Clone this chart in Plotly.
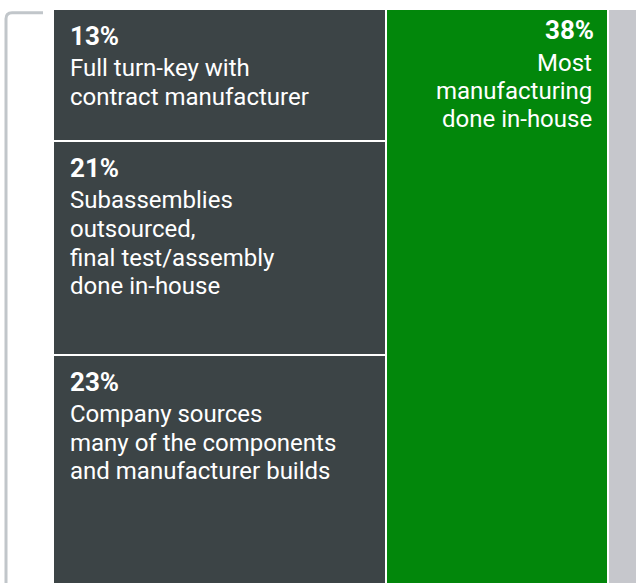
import plotly.graph_objects as go

# ---- data ----
labels = ["13%", "21%", "23%", "38%", "5%"]
descriptions = [
    "Full turn-key with<br>contract manufacturer",
    "Subassemblies<br>outsourced,<br>final test/assembly<br>done in-house",
    "Company sources<br>many of the components<br>and manufacturer builds",
    "Most<br>manufacturing<br>done in-house",
    "",
]
values = [13, 21, 23, 38, 5]
columns = ["outsourced", "outsourced", "outsourced", "in-house", "other"]
colors = ["#3c4446", "#3c4446", "#3c4446", "#02870b", "#c6c7cc"]
show_label = [True, True, True, True, False]
label_side = ["left", "left", "left", "right", "left"]

# ---- marimekko layout from data ----
col_order = []
for c in columns:
    if c not in col_order:
        col_order.append(c)
col_total = {c: sum(v for v, cc in zip(values, columns) if cc == c) for c in col_order}
col_left = {}
acc = 0
for c in col_order:
    col_left[c] = acc
    acc += col_total[c]

xs, ws, bases, hs = [], [], [], []
top_used = {c: 100.0 for c in col_order}
for v, c in zip(values, columns):
    h = v / col_total[c] * 100
    top = top_used[c]
    base = top - h
    top_used[c] = base
    xs.append(col_left[c] + col_total[c] / 2)
    ws.append(col_total[c])
    bases.append(base)
    hs.append(h)

fig = go.Figure(go.Bar(
    x=xs, y=hs, base=bases, width=ws,
    marker=dict(color=colors, line=dict(color="white", width=2)),
    hoverinfo="skip",
))

FONT = "Roboto"
FS = 24    # description font size
LFS = 26   # percentage label font size


def add_line(x, y, text, xanchor, xshift, baseline_px, size, bold=False):
    asc = 0.927 * size + 1  # top of annotation box to baseline
    fig.add_annotation(x=x, y=y, xref="x", yref="y", xanchor=xanchor, yanchor="top",
                       xshift=xshift, yshift=-(baseline_px - asc), showarrow=False,
                       align=xanchor, text=("<b>%s</b>" % text) if bold else text,
                       font=dict(family=FONT, size=size, color="white"))


for i in range(len(values)):
    if not show_label[i]:
        continue
    c = columns[i]
    top = bases[i] + hs[i]
    if label_side[i] == "left":
        xa, xanchor, xsh_l, xsh_d = col_left[c], "left", 15, 15
        b_lab, b_desc, step = 35.3, 66, 28.8
    else:
        xa, xanchor, xsh_l, xsh_d = col_left[c] + col_total[c], "right", -11.5, -14
        b_lab, b_desc, step = 29.3, 61, 28.2
    add_line(xa, top, labels[i], xanchor, xsh_l, b_lab, LFS, bold=True)
    for k, line in enumerate(descriptions[i].split("<br>")):
        add_line(xa, top, line, xanchor, xsh_d, b_desc + k * step, FS)

# bracket on the left
fig.add_shape(type="path", xref="paper", yref="paper", xsizemode="pixel", ysizemode="pixel",
              xanchor=0, yanchor=1,
              path="M -10,-3.7 L -41,-3.7 Q -47,-3.7 -47,-9.7 L -47,-700",
              line=dict(color="#c1c6ca", width=3))

fig.update_layout(
    width=637, height=583,
    margin=dict(l=53, r=0, t=9, b=0),
    paper_bgcolor="white", plot_bgcolor="white",
    showlegend=False,
    bargap=0,
    xaxis=dict(range=[0, 100], visible=False, fixedrange=True),
    yaxis=dict(range=[100 - 574 / 580 * 100, 100], visible=False, fixedrange=True),
)

fig.write_html("out.html")
